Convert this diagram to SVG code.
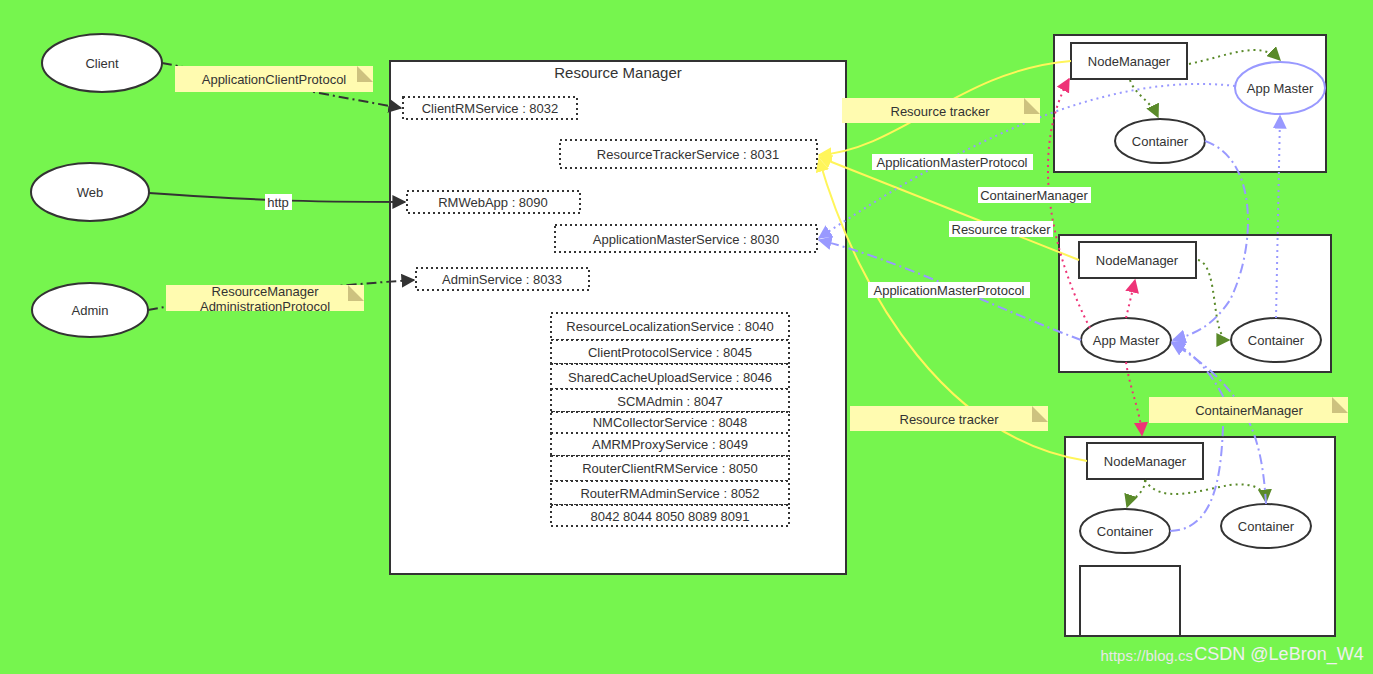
<svg xmlns="http://www.w3.org/2000/svg" width="1373" height="674" viewBox="0 0 1373 674">
<defs>
<style>
text{font-family:"Liberation Sans",Arial,sans-serif;font-size:13px;fill:#333;text-anchor:middle;dominant-baseline:central}
.n{fill:#fff;stroke:#333;stroke-width:2}
.svc{fill:#fff;stroke:#333;stroke-width:2;stroke-dasharray:2 3}
.note{fill:#fffbb0}
.fold{fill:#cdc27f}
.c{fill:none;stroke-width:2}
.dk{stroke:#333}
.ye{stroke:#fff55a}
.bl{stroke:#99f}
.pk{stroke:#ee3377}
.gr{stroke:#5a8a2a}
.dot{stroke-dasharray:2 4}
.dd{stroke-dasharray:10 4 2 4}
.lb{fill:#fff}
</style>
<marker id="mdk" viewBox="0 0 10 10" refX="9" refY="5" markerWidth="7" markerHeight="7" orient="auto"><path d="M0,0L10,5L0,10z" fill="#333"/></marker>
<marker id="mye" viewBox="0 0 10 10" refX="9" refY="5" markerWidth="7" markerHeight="7" orient="auto"><path d="M0,0L10,5L0,10z" fill="#fff55a"/></marker>
<marker id="mbl" viewBox="0 0 10 10" refX="9" refY="5" markerWidth="7" markerHeight="7" orient="auto"><path d="M0,0L10,5L0,10z" fill="#99f"/></marker>
<marker id="mpk" viewBox="0 0 10 10" refX="9" refY="5" markerWidth="7" markerHeight="7" orient="auto"><path d="M0,0L10,5L0,10z" fill="#ee3377"/></marker>
<marker id="mgr" viewBox="0 0 10 10" refX="9" refY="5" markerWidth="7" markerHeight="7" orient="auto"><path d="M0,0L10,5L0,10z" fill="#5a8a2a"/></marker>
</defs>
<rect width="1373" height="674" fill="#76f54e"/>

<g id="client"><ellipse class="n" cx="102" cy="63" rx="60" ry="29"/><text x="102" y="63">Client</text></g>
<g id="web"><ellipse class="n" cx="90" cy="192" rx="59" ry="29"/><text x="90" y="192">Web</text></g>
<g id="admin"><ellipse class="n" cx="90" cy="310" rx="58" ry="27"/><text x="90" y="310">Admin</text></g>

<g id="rm">
<rect class="n" x="390" y="61" width="456" height="513"/>
<text x="618" y="72" style="font-size:15px">Resource Manager</text>
<rect class="svc" x="403" y="97" width="174" height="22"/><text x="490" y="108">ClientRMService : 8032</text>
<rect class="svc" x="560" y="140" width="257" height="28"/><text x="688" y="154">ResourceTrackerService : 8031</text>
<rect class="svc" x="407" y="191" width="173" height="22"/><text x="493" y="202">RMWebApp : 8090</text>
<rect class="svc" x="555" y="225" width="262" height="27"/><text x="686" y="239">ApplicationMasterService : 8030</text>
<rect class="svc" x="416" y="268" width="173" height="22"/><text x="502" y="279">AdminService : 8033</text>
<rect class="svc" x="551" y="313" width="238" height="27"/><text x="670" y="326">ResourceLocalizationService : 8040</text>
<rect class="svc" x="551" y="340" width="238" height="24"/><text x="670" y="352">ClientProtocolService :  8045</text>
<rect class="svc" x="551" y="364" width="238" height="25"/><text x="670" y="377">SharedCacheUploadService :  8046</text>
<rect class="svc" x="551" y="389" width="238" height="23"/><text x="670" y="401">SCMAdmin :  8047</text>
<rect class="svc" x="551" y="412" width="238" height="21"/><text x="670" y="422">NMCollectorService : 8048</text>
<rect class="svc" x="551" y="433" width="238" height="23"/><text x="670" y="444">AMRMProxyService :  8049</text>
<rect class="svc" x="551" y="456" width="238" height="25"/><text x="670" y="468">RouterClientRMService :  8050</text>
<rect class="svc" x="551" y="481" width="238" height="24"/><text x="670" y="493">RouterRMAdminService :  8052</text>
<rect class="svc" x="551" y="505" width="238" height="21"/><text x="670" y="516">8042 8044  8050 8089 8091</text>
</g>

<g id="node1">
<rect class="n" x="1054" y="35" width="272" height="137"/>
<rect class="n" x="1071" y="43" width="116" height="36"/><text x="1129" y="61">NodeManager</text>
<ellipse class="n" style="stroke:#99f" cx="1280" cy="88" rx="45" ry="26"/><text x="1280" y="88">App Master</text>
<ellipse class="n" cx="1160" cy="141" rx="45" ry="22"/><text x="1160" y="141">Container</text>
</g>
<g id="node2">
<rect class="n" x="1059" y="235" width="272" height="137"/>
<rect class="n" x="1079" y="242" width="117" height="36"/><text x="1137" y="260">NodeManager</text>
<ellipse class="n" cx="1126" cy="340" rx="45" ry="22"/><text x="1126" y="340">App Master</text>
<ellipse class="n" cx="1276" cy="340" rx="45" ry="22"/><text x="1276" y="340">Container</text>
</g>
<g id="node3">
<rect class="n" x="1065" y="437" width="270" height="199"/>
<rect class="n" x="1087" y="443" width="116" height="36"/><text x="1145" y="461">NodeManager</text>
<ellipse class="n" cx="1125" cy="531" rx="45" ry="22"/><text x="1125" y="531">Container</text>
<ellipse class="n" cx="1266" cy="526" rx="45" ry="22"/><text x="1266" y="526">Container</text>
<rect class="n" x="1080" y="566" width="100" height="70"/>
</g>

<g id="connectors">
<path class="c dk dd" d="M162,63 C200,70 300,90 401,108" marker-end="url(#mdk)"/>
<path class="c dk" d="M149,193 C250,200 300,202 405,202" marker-end="url(#mdk)"/>
<path class="c dk dd" d="M148,310 C200,300 330,285 414,280" marker-end="url(#mdk)"/>
<path class="c ye" d="M1071,61 C960,70 900,150 819,155" marker-end="url(#mye)"/>
<path class="c ye" d="M1079,260 L819,157" marker-end="url(#mye)"/>
<path class="c ye" d="M1087,461 C950,440 860,300 819,159" marker-end="url(#mye)"/>
<path class="c bl dot" d="M1235,86 C1100,70 950,150 819,238" marker-end="url(#mbl)"/>
<path class="c bl dd" d="M1081,340 C1000,310 900,260 819,240" marker-end="url(#mbl)"/>
<path class="c pk dot" d="M1090,328 C1050,250 1030,150 1069,79" marker-end="url(#mpk)"/>
<path class="c pk dot" d="M1126,318 L1135,280" marker-end="url(#mpk)"/>
<path class="c pk dot" d="M1126,362 C1130,390 1140,410 1142,435" marker-end="url(#mpk)"/>
<path class="c gr dot" d="M1189,64 C1230,55 1260,40 1280,60" marker-end="url(#mgr)"/>
<path class="c gr dot" d="M1130,80 C1135,95 1150,100 1158,117" marker-end="url(#mgr)"/>
<path class="c gr dot" d="M1198,260 C1220,265 1210,340 1229,340" marker-end="url(#mgr)"/>
<path class="c gr dot" d="M1145,480 C1145,495 1130,498 1127,507" marker-end="url(#mgr)"/>
<path class="c gr dot" d="M1145,480 C1160,505 1200,490 1230,485 C1255,482 1265,490 1266,502" marker-end="url(#mgr)"/>
<path class="c bl dd" d="M1205,141 C1260,160 1255,250 1230,300 C1210,330 1190,335 1173,340" marker-end="url(#mbl)"/>
<path class="c bl dot" d="M1276,318 L1280,116" marker-end="url(#mbl)"/>
<path class="c bl dd" d="M1170,531 C1230,530 1220,430 1225,400 C1210,370 1190,350 1172,342" marker-end="url(#mbl)"/>
<path class="c bl dd" d="M1266,504 C1262,440 1250,390 1172,343" marker-end="url(#mbl)"/>
</g>

<g id="labels">
<rect class="lb" x="265" y="194" width="27" height="16"/><text x="278" y="202">http</text>
<rect class="lb" x="872" y="154" width="161" height="16"/><text x="952" y="162">ApplicationMasterProtocol</text>
<rect class="lb" x="978" y="187" width="113" height="16"/><text x="1034" y="195">ContainerManager</text>
<rect class="lb" x="949" y="221" width="104" height="16"/><text x="1001" y="229">Resource tracker</text>
<rect class="lb" x="868" y="282" width="162" height="16"/><text x="949" y="290">ApplicationMasterProtocol</text>
</g>

<g id="notes">
<rect class="note" x="175" y="66" width="198" height="26"/><path class="fold" d="M357,66 L373,82 L357,82z"/><text x="274" y="79">ApplicationClientProtocol</text>
<rect class="note" x="842" y="98" width="198" height="25"/><path class="fold" d="M1024,98 L1040,114 L1024,114z"/><text x="940" y="111">Resource tracker</text>
<rect class="note" x="166" y="285" width="198" height="26"/><path class="fold" d="M348,285 L364,301 L348,301z"/><text x="265" y="291">ResourceManager</text><text x="265" y="306">AdministrationProtocol</text>
<rect class="note" x="850" y="406" width="198" height="25"/><path class="fold" d="M1032,406 L1048,422 L1032,422z"/><text x="949" y="419">Resource tracker</text>
<rect class="note" x="1149" y="397" width="199" height="26"/><path class="fold" d="M1332,397 L1348,413 L1332,413z"/><text x="1249" y="410">ContainerManager</text>
</g>

<text x="1193" y="655" style="font-size:15px;fill:#e8e8e8;text-anchor:end">https://blog.cs</text>
<text x="1279" y="654" style="font-size:18px;fill:#f0f0f0">CSDN @LeBron_W4</text>
</svg>
